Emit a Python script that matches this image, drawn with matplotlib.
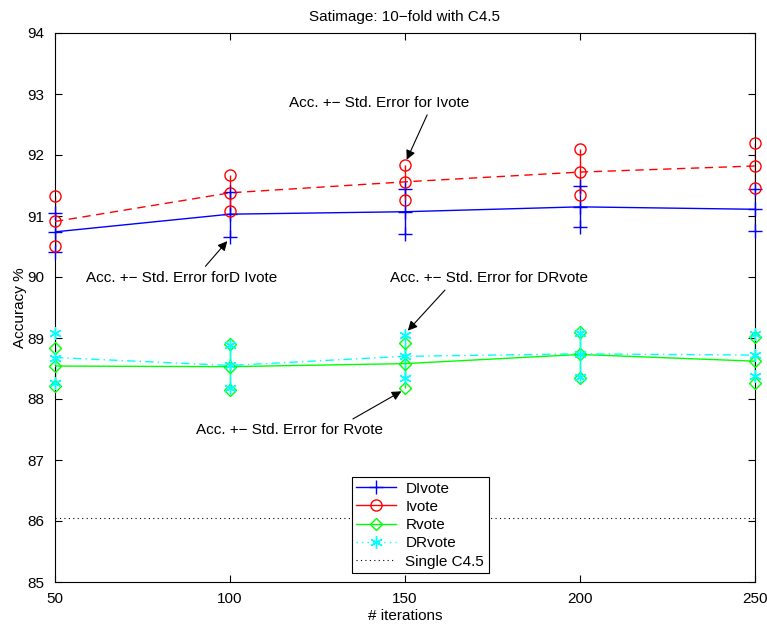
import matplotlib
matplotlib.use("Agg")
import matplotlib.pyplot as plt
from matplotlib.lines import Line2D
import numpy as np

plt.rcParams['font.family'] = ['Liberation Sans', 'DejaVu Sans']

iterations = [50, 100, 150, 200, 250]

divote_mean = [90.74, 91.03, 91.07, 91.15, 91.11]
divote_up = [91.05, 91.40, 91.44, 91.49, 91.45]
divote_lo = [90.41, 90.66, 90.70, 90.82, 90.76]

ivote_mean = [90.91, 91.38, 91.56, 91.72, 91.82]
ivote_up = [91.32, 91.67, 91.84, 92.10, 92.20]
ivote_lo = [90.51, 91.09, 91.26, 91.34, 91.46]

rvote_mean = [88.54, 88.53, 88.58, 88.73, 88.62]
rvote_up = [88.84, 88.90, 88.92, 89.10, 89.01]
rvote_lo = [88.22, 88.15, 88.18, 88.34, 88.26]

drvote_mean = [88.68, 88.55, 88.70, 88.74, 88.72]
drvote_up = [89.09, 88.88, 89.05, 89.08, 89.07]
drvote_lo = [88.26, 88.18, 88.34, 88.36, 88.38]

single_c45 = 86.05

FS = 11

fig = plt.figure(figsize=(7.67, 6.26), dpi=100)
ax = fig.add_axes([55/767, 1-582/626, 700/767, 549/626])

def series(mean, up, lo, color, ls, marker, ms, mew=1.0):
    x = np.array(iterations)
    ax.vlines(x, lo, up, color=color, lw=1.0, zorder=2)
    ax.plot(x, mean, color=color, ls=ls, lw=1.0, zorder=3)
    for arr in (mean, up, lo):
        ax.plot(x, arr, ls='none', marker=marker, ms=ms, mfc='none',
                mec=color, mew=mew, zorder=4, clip_on=False)

series(divote_mean, divote_up, divote_lo, '#0000ff', '-', '+', 10)
series(ivote_mean, ivote_up, ivote_lo, '#ff0000', (0, (6, 4)), 'o', 8)
series(rvote_mean, rvote_up, rvote_lo, '#00ff00', '-', 'D', 6)
series(drvote_mean, drvote_up, drvote_lo, '#00ffff', (0, (6, 3, 1, 3)), (6, 2, 0), 9)
ax.plot([iterations[0], iterations[-1]], [single_c45, single_c45], color='black',
        ls=(0, (1, 3)), lw=0.8)

ax.set_xlim(50, 250)
ax.set_ylim(85, 94)
ax.set_xticks(iterations)
ax.set_yticks(np.arange(85, 95, 1))
ax.tick_params(direction='in', top=True, right=True, length=5, labelsize=FS)
ax.tick_params(axis='y', pad=8)
ax.tick_params(axis='x', pad=7)
ax.set_title('Satimage: 10\u2212fold with C4.5', fontsize=FS, pad=9)
ax.set_xlabel('# iterations', fontsize=FS, labelpad=2)
ax.set_ylabel('Accuracy %', fontsize=FS, labelpad=0)

def arr(rx, ry):
    return dict(arrowstyle='-|>', color='black', lw=0.8, mutation_scale=14,
                relpos=(rx, ry), shrinkA=2, shrinkB=3)

ax.annotate('Acc. +\u2212 Std. Error for Ivote', xy=(150, 91.86), xytext=(142.6, 92.86),
            ha='center', va='center', fontsize=FS, arrowprops=arr(0.78, 0))
ax.annotate('Acc. +\u2212 Std. Error forD Ivote', xy=(100, 90.64), xytext=(86.3, 89.98),
            ha='center', va='center', fontsize=FS, arrowprops=arr(0.6, 1))
ax.annotate('Acc. +\u2212 Std. Error for DRvote', xy=(150, 89.07), xytext=(174, 89.98),
            ha='center', va='center', fontsize=FS, arrowprops=arr(0.3, 0))
ax.annotate('Acc. +\u2212 Std. Error for Rvote', xy=(150, 88.16), xytext=(117, 87.49),
            ha='center', va='center', fontsize=FS, arrowprops=arr(0.8, 1))

handles = [
    Line2D([], [], color='#0000ff', ls='-', marker='+', ms=10, lw=1.0),
    Line2D([], [], color='#ff0000', ls='-', marker='o', ms=8, mfc='none', lw=1.0),
    Line2D([], [], color='#00ff00', ls='-', marker='D', ms=6, mfc='none', lw=1.0),
    Line2D([], [], color='#00ffff', ls=(0, (1, 3)), marker=(6, 2, 0), ms=9, lw=1.0),
    Line2D([], [], color='black', ls=(0, (1, 3)), lw=0.8),
]
labels = ['DIvote', 'Ivote', 'Rvote', 'DRvote', 'Single C4.5']
leg = ax.legend(handles, labels, loc='lower left', bbox_to_anchor=(0.424, 0.016),
                fontsize=FS, frameon=True, fancybox=False, edgecolor='black',
                framealpha=1, handlelength=2.6, borderpad=0.3, labelspacing=0.28,
                handletextpad=0.6, borderaxespad=0)
leg.get_frame().set_linewidth(0.8)

fig.savefig('out.png', dpi=100)
